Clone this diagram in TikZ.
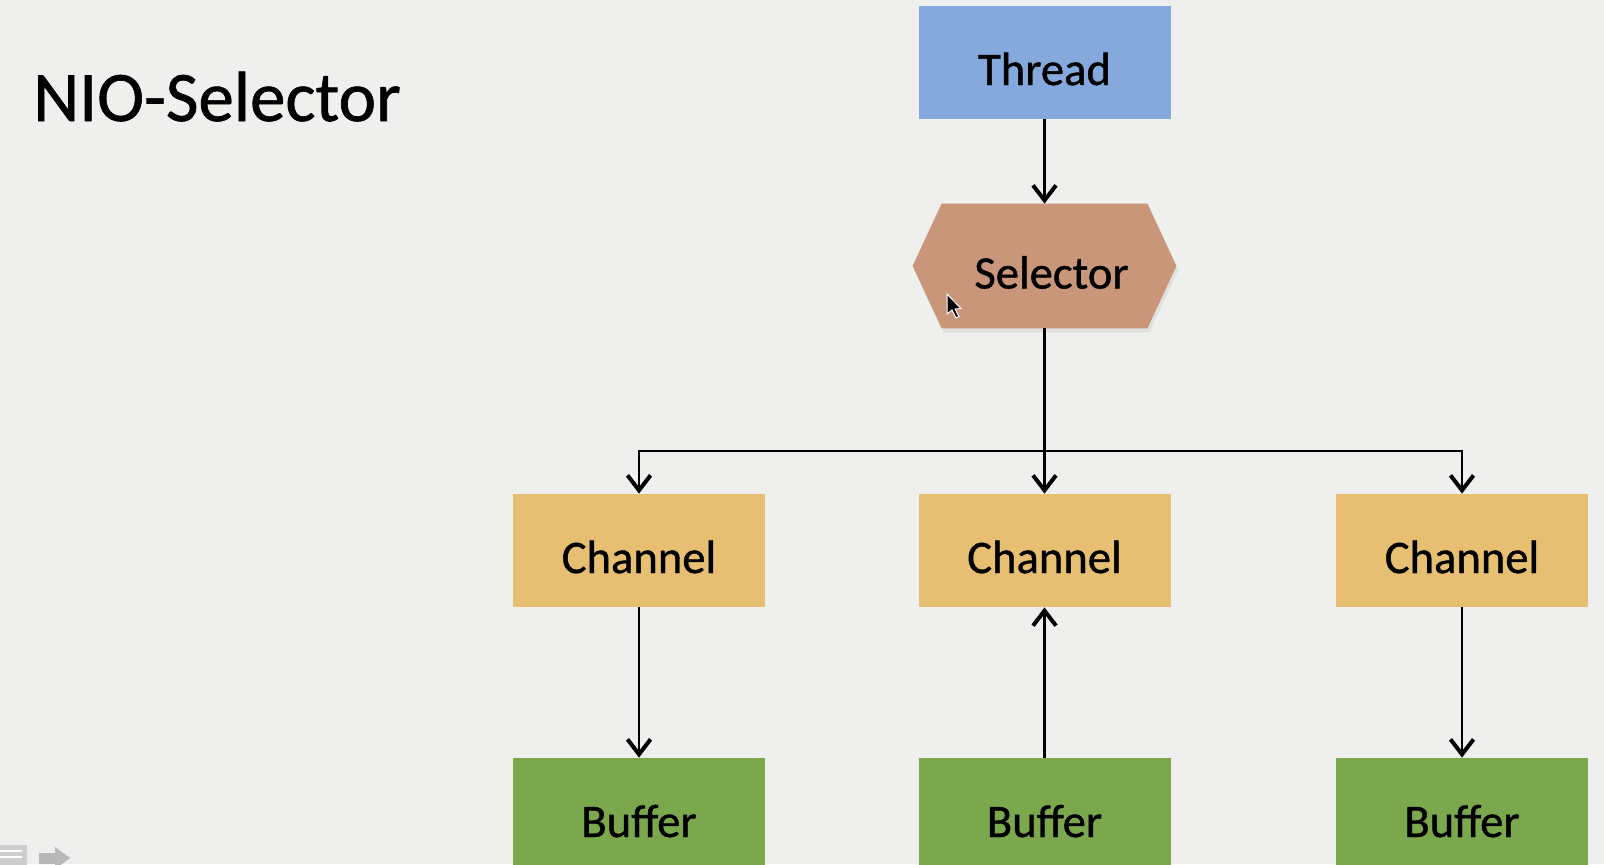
\documentclass[tikz,border=0pt]{standalone}
\usepackage{fontspec}
\setmainfont{Carlito}[FakeBold=0.9]
\usetikzlibrary{arrows.meta,calc}
\definecolor{pagebg}{HTML}{EFEFED}
\definecolor{threadblue}{HTML}{85A9DD}
\definecolor{selbrown}{HTML}{C9967A}
\definecolor{chanyellow}{HTML}{E6BF73}
\definecolor{bufgreen}{HTML}{7BA84C}
\definecolor{iconGray}{HTML}{B8B8B8}
\begin{document}
\begin{tikzpicture}[x=0.5pt,y=-0.5pt,
  block/.style={minimum width=126pt, minimum height=56.5pt, inner sep=0pt,
    text height=22.5pt, text depth=0pt, font=\fontsize{23.3}{28}\selectfont},
  arr/.style={line width=1.3pt, draw=black,
    -{Straight Barb[length=7.5pt,width=11.5pt,line width=2pt]}}]
  \useasboundingbox (0,0) rectangle (1604,864);
  \clip (0,0) rectangle (1604,864);
  \fill[pagebg] (0,0) rectangle (1604,864);

  % heading
  \node[anchor=base west, inner sep=0pt, font=\fontsize{35.5}{40}\selectfont]
    (title) at (33,121) {NIO-Selector};

  % thread
  \node[block, fill=threadblue] (thr) at (1044.5,62.5) {Thread};

  % selector: hexagon drawn around an invisible node
  \node[block, minimum width=131.5pt, minimum height=62pt] (sel) at (1044.5,266) {};
  \fill[black, opacity=0.06] ($(sel.west)+(2,4)$) -- ($(sel.north west)+(31,4)$)
    -- ($(sel.north east)+(-27,4)$) -- ($(sel.east)+(2,4)$)
    -- ($(sel.south east)+(-27,4)$) -- ($(sel.south west)+(31,4)$) -- cycle;
  \fill[selbrown] (sel.west) -- ($(sel.north west)+(29,0)$)
    -- ($(sel.north east)+(-29,0)$) -- (sel.east)
    -- ($(sel.south east)+(-29,0)$) -- ($(sel.south west)+(29,0)$) -- cycle;
  \node[block, minimum width=0pt, minimum height=0pt] (seltext) at ($(sel.center)+(7,0)$) {Selector};

  % channels
  \node[block, fill=chanyellow] (ch1) at (639,550.5) {Channel};
  \node[block, fill=chanyellow] (ch2) at (1044.5,550.5) {Channel};
  \node[block, fill=chanyellow] (ch3) at (1462,550.5) {Channel};

  % buffers
  \node[block, fill=bufgreen] (buf1) at (639,814.5) {Buffer};
  \node[block, fill=bufgreen] (buf2) at (1044.5,814.5) {Buffer};
  \node[block, fill=bufgreen] (buf3) at (1462,814.5) {Buffer};

  % connectors
  \coordinate (bar) at (1044.5,451);
  \draw[arr] (thr.south) -- (sel.north);
  \draw[arr] (sel.south) -- (ch2.north);
  \draw[arr] (bar) -| (ch1.north);
  \draw[arr] (bar) -| (ch3.north);
  \draw[arr] (ch1.south) -- (buf1.north);
  \draw[arr] (buf2.north) -- (ch2.south);
  \draw[arr] (ch3.south) -- (buf3.north);

  % mouse pointer
  \filldraw[fill=black, draw=white, line width=0.5pt]
    (947,294) -- (947,314) -- (952,310) -- (956,318) -- (959,316.5)
    -- (955,309) -- (961,308.5) -- cycle;

  % slideshow controls
  \fill[iconGray!70] (-2,845) rectangle (27,866);
  \draw[white, line width=1pt] (0,851) -- (22,851) (0,857) -- (22,857);
  \fill[iconGray] (39,853) -- (55,853) -- (55,847) -- (70,858) -- (55,869)
    -- (55,864) -- (39,864) -- cycle;
\end{tikzpicture}
\end{document}
